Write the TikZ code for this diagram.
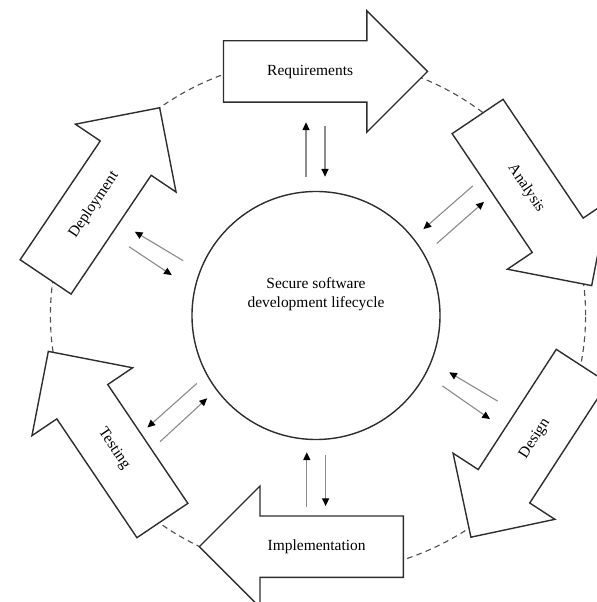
\documentclass[tikz,border=0pt]{standalone}
\usepackage{fontspec}
\setmainfont{Liberation Serif}
\usetikzlibrary{arrows.meta,shapes.arrows,calc}
\definecolor{SDLCLine}{HTML}{2E2E2E}
\definecolor{SDLCDash}{HTML}{505050}
\definecolor{SDLCFlow}{HTML}{8C8C8C}

\begin{document}
\begin{tikzpicture}[
  stage/.style={single arrow,draw=SDLCLine,fill=white,line width=1pt,minimum height=5.1cm,single arrow head extend=0.75cm,single arrow tip angle=90,inner xsep=2pt,inner ysep=0.56cm,text height=0.28cm,text depth=0.1cm,font=\fontsize{11}{13}\selectfont,anchor=tail},
  back/.style={shape border rotate=180},
  hub/.style={circle,draw=SDLCLine,line width=1pt,minimum size=6.2cm,inner sep=0pt},
  flow/.style={draw=SDLCFlow,line width=0.8pt,-{Triangle[length=5.5pt,width=5pt,color=black]}},
]
\useasboundingbox (-7.9,-7.1625) rectangle (7.0,7.8875);
\draw[SDLCDash,line width=0.8pt,dash pattern=on 4pt off 3pt] (0.05,0) ellipse [x radius=6.69cm,y radius=6.44cm];

\node[hub] (hub) at (0,0) {};
\node[font=\fontsize{11}{13.5}\selectfont,align=center] (title) at ([yshift=0.53cm]hub.center) {Secure software\\development lifecycle};

% the six phases, clockwise from the top
\node[stage] (req) at (-2.33,6.10) {Requirements};
\node[stage,rotate=-56] (ana) at (4.03,4.99) {Analysis};
\node[stage,back,rotate=57] (des) at (6.66,-1.25) {Design};
\node[stage,back] (imp) at (2.2,-5.78) {Implementation};
\node[stage,back,rotate=-56] (tst) at (-3.83,-5.14) {Testing};
\node[stage,rotate=56] (dep) at (-6.77,0.95) {Deployment};

% exchange between the hub and each phase
\draw[flow] ([shift={(-0.25,3.47)}]hub.center) -- ++(0,1.36);
\draw[flow] ([shift={(0.225,4.74)}]hub.center) -- ++(0,-1.27);
\draw[flow] ([shift={(3.92,3.24)}]hub.center) -- ++(-1.235,-1.08);
\draw[flow] ([shift={(3.02,1.80)}]hub.center) -- ++(1.18,1.04);
\draw[flow] ([shift={(4.54,-2.14)}]hub.center) -- ++(-1.21,0.72);
\draw[flow] ([shift={(3.16,-1.76)}]hub.center) -- ++(1.19,-0.83);
\draw[flow] ([shift={(-0.23,-4.78)}]hub.center) -- ++(0,1.36);
\draw[flow] ([shift={(0.24,-3.49)}]hub.center) -- ++(0,-1.275);
\draw[flow] ([shift={(-2.98,-1.70)}]hub.center) -- ++(-1.235,-1.10);
\draw[flow] ([shift={(-3.90,-3.155)}]hub.center) -- ++(1.18,1.085);
\draw[flow] ([shift={(-3.32,1.37)}]hub.center) -- ++(-1.21,0.725);
\draw[flow] ([shift={(-4.675,1.72)}]hub.center) -- ++(1.07,-0.71);
\end{tikzpicture}
\end{document}
